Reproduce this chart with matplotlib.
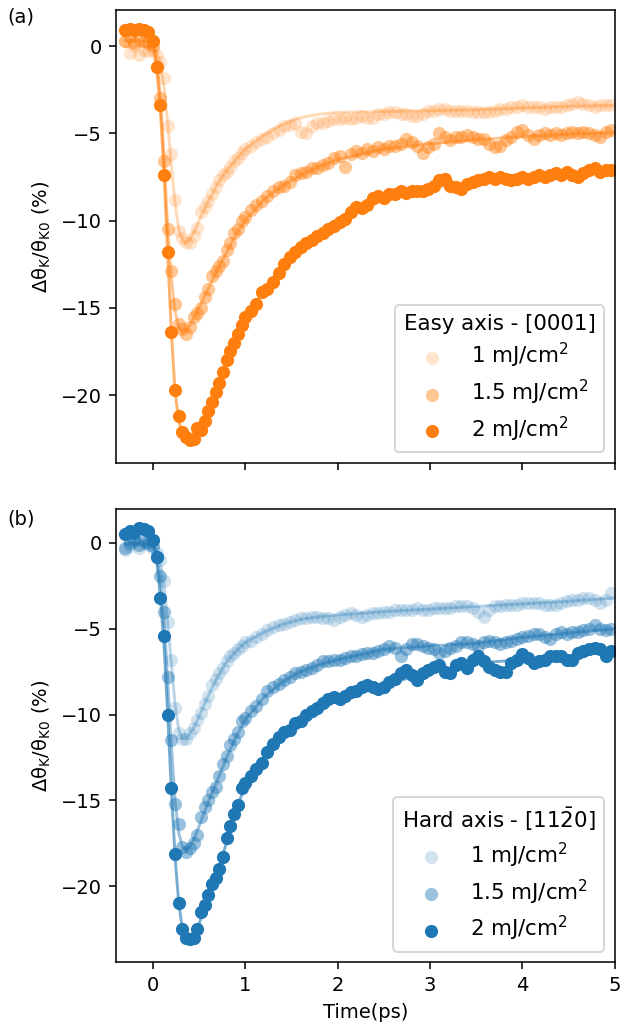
import numpy as np
import matplotlib
matplotlib.use("Agg")
import matplotlib.pyplot as plt

# delay times (ps), shared by every trace
t = [-0.30, -0.25, -0.20, -0.15, -0.10, -0.05,
     0.00, 0.04, 0.08, 0.12, 0.16, 0.20, 0.24, 0.28, 0.32, 0.36,
     0.40, 0.44, 0.48, 0.52, 0.56, 0.60, 0.64, 0.68, 0.72, 0.76,
     0.80, 0.84, 0.88, 0.92, 0.96, 1.00,
     1.06, 1.12, 1.18, 1.24, 1.30, 1.36, 1.42, 1.48, 1.54, 1.60,
     1.66, 1.72, 1.78, 1.84, 1.90, 1.96, 2.02, 2.08, 2.14, 2.20,
     2.26, 2.32, 2.38, 2.44, 2.50, 2.56, 2.62, 2.68, 2.74, 2.80,
     2.86, 2.92, 2.98, 3.04, 3.10, 3.16, 3.22, 3.28, 3.34, 3.40,
     3.46, 3.52, 3.58, 3.64, 3.70, 3.76, 3.82, 3.88, 3.94, 4.00,
     4.06, 4.12, 4.18, 4.24, 4.30, 4.36, 4.42, 4.48, 4.54, 4.60,
     4.66, 4.72, 4.78, 4.84, 4.90, 4.96]

# easy axis [0001]
easy_1 = [0.3, -0.4, 0.0, -0.5, -0.2, -0.3,
          -0.2, -0.5, -0.9, -1.8, -4.6, -6.2, -8.8, -10.6, -11.0, -11.2,
          -11.3, -10.9, -10.4, -9.5, -9.2, -8.9, -8.5, -8.1, -7.7, -7.4,
          -7.2, -6.9, -6.6, -6.4, -6.1, -5.9,
          -5.7, -5.5, -5.3, -5.2, -5.0, -4.8, -4.6, -4.5, -4.4, -4.9,
          -5.0, -4.6, -4.4, -4.4, -4.3, -4.2, -4.2, -4.1, -4.2, -4.1,
          -4.0, -4.1, -4.1, -3.9, -3.9, -3.8, -3.8, -3.9, -3.9, -4.0,
          -4.0, -3.9, -3.7, -3.7, -3.6, -3.6, -3.7, -3.7, -3.7, -3.7,
          -3.8, -3.8, -3.8, -3.8, -3.7, -3.6, -3.6, -3.5, -3.5, -3.4,
          -3.5, -3.5, -3.5, -3.6, -3.5, -3.5, -3.5, -3.4, -3.3, -3.2,
          -3.3, -3.4, -3.5, -3.4, -3.4, -3.4]
easy_15 = [0.3, 0.5, 0.2, 0.4, 0.3, 0.2,
           0.0, -1.2, -3.0, -6.6, -10.5, -12.9, -14.8, -15.9, -16.2, -16.5,
           -16.1, -15.5, -15.3, -15.0, -14.4, -13.9, -13.2, -12.9, -12.6, -12.3,
           -11.7, -11.3, -10.7, -10.5, -10.0, -9.8,
           -9.4, -9.1, -8.9, -8.6, -8.3, -8.1, -8.0, -7.8, -7.4, -7.3,
           -7.2, -7.0, -7.0, -6.8, -6.7, -6.4, -6.3, -6.9, -6.2, -6.0,
           -6.1, -5.9, -6.0, -5.8, -5.9, -5.7, -5.7, -5.6, -5.3, -5.5,
           -5.7, -6.1, -5.8, -5.6, -5.0, -5.2, -5.4, -5.2, -5.2, -5.1,
           -5.2, -5.3, -5.3, -5.6, -5.8, -5.7, -5.4, -5.2, -4.9, -4.8,
           -5.1, -5.3, -5.1, -5.0, -5.1, -5.0, -5.1, -5.0, -4.9, -5.0,
           -4.9, -5.0, -5.1, -5.2, -4.9, -4.8]
easy_2 = [0.9, 1.0, 0.9, 1.0, 0.9, 0.8,
          0.3, -1.2, -3.4, -7.4, -11.8, -16.4, -19.7, -21.2, -22.1, -22.4,
          -22.6, -22.5, -21.9, -22.0, -21.5, -20.9, -20.4, -19.8, -19.3, -18.7,
          -18.0, -17.5, -17.0, -16.5, -16.0, -15.5,
          -15.2, -14.8, -14.1, -13.9, -13.5, -13.0, -12.5, -12.1, -11.8, -11.5,
          -11.3, -11.1, -10.9, -10.7, -10.5, -10.3, -10.1, -9.9, -9.5, -9.2,
          -9.3, -9.1, -8.7, -8.6, -8.7, -8.5, -8.5, -8.3, -8.4, -8.3,
          -8.3, -8.3, -8.2, -8.0, -7.7, -7.6, -8.0, -8.1, -8.2, -7.9,
          -7.8, -7.7, -7.6, -7.5, -7.6, -7.5, -7.6, -7.7, -7.6, -7.5,
          -7.6, -7.5, -7.4, -7.5, -7.4, -7.3, -7.4, -7.2, -7.4, -7.5,
          -7.3, -7.1, -7.0, -7.2, -7.1, -7.1]

# hard axis [11-20]
hard_1 = [-0.4, -0.2, 0.1, -0.3, 0.0, -0.1,
          -0.3, -0.6, -1.0, -2.2, -4.6, -6.8, -9.6, -11.1, -11.4, -11.4,
          -11.1, -10.8, -10.3, -9.9, -9.4, -8.9, -8.3, -7.9, -7.6, -7.3,
          -6.9, -6.6, -6.4, -6.2, -6.0, -5.8,
          -5.7, -5.5, -5.3, -5.1, -4.9, -4.8, -4.7, -4.6, -4.5, -4.4,
          -4.4, -4.3, -4.3, -4.4, -4.4, -4.5, -4.3, -4.2, -4.1, -4.2,
          -4.3, -4.2, -4.1, -4.1, -4.0, -4.0, -3.9, -3.9, -3.9, -3.9,
          -3.8, -3.9, -3.9, -3.8, -3.8, -3.8, -3.8, -3.7, -3.7, -3.7,
          -3.8, -4.0, -4.3, -3.9, -3.7, -3.7, -3.6, -3.6, -3.6, -3.5,
          -3.5, -3.5, -3.5, -3.6, -3.6, -3.6, -3.5, -3.4, -3.3, -3.3,
          -3.2, -3.2, -3.3, -3.5, -3.3, -2.9]
hard_15 = [-0.3, 0.0, 0.2, -0.1, 0.1, 0.0,
           -0.2, -0.8, -1.9, -4.0, -7.8, -11.5, -15.2, -16.4, -17.7, -18.0,
           -17.8, -17.5, -17.0, -16.0, -15.4, -15.0, -14.5, -14.2, -13.6, -12.9,
           -12.4, -11.8, -11.4, -11.0, -10.4, -10.2,
           -9.8, -9.5, -9.1, -8.6, -8.4, -8.2, -8.0, -7.8, -7.6, -7.5,
           -7.4, -7.3, -7.1, -6.9, -6.9, -6.8, -6.8, -6.7, -6.6, -6.6,
           -6.5, -6.4, -6.4, -6.3, -6.2, -6.0, -6.1, -6.6, -6.2, -5.9,
           -5.9, -6.0, -6.1, -6.2, -6.4, -6.3, -6.1, -6.0, -5.8, -5.8,
           -5.9, -6.0, -5.8, -5.7, -5.8, -5.9, -5.8, -5.7, -5.6, -5.5,
           -5.4, -5.3, -5.3, -5.5, -5.6, -5.3, -5.2, -5.3, -5.2, -5.2,
           -5.1, -5.0, -4.8, -5.0, -5.1, -5.0]
hard_2 = [0.5, 0.7, 0.6, 0.9, 0.8, 0.7,
          0.2, -0.8, -3.2, -5.4, -10.0, -14.3, -18.1, -21.0, -22.5, -23.0,
          -23.1, -23.0, -22.5, -21.5, -21.1, -20.5, -19.9, -19.5, -19.0, -18.3,
          -17.2, -16.5, -15.8, -15.3, -14.3, -14.0,
          -13.6, -13.2, -12.8, -12.2, -11.7, -11.3, -11.0, -10.9, -10.5, -10.4,
          -10.0, -9.8, -9.6, -9.3, -9.1, -9.0, -9.1, -8.9, -8.7, -8.6,
          -8.4, -8.3, -8.4, -8.5, -8.4, -8.1, -7.9, -7.6, -7.4, -7.7,
          -8.0, -7.6, -7.4, -7.2, -7.1, -7.5, -7.6, -7.1, -7.0, -7.3,
          -6.8, -6.6, -6.9, -7.2, -7.4, -7.5, -7.5, -7.0, -6.8, -6.5,
          -6.7, -7.0, -6.9, -6.8, -6.6, -6.6, -6.6, -6.8, -6.8, -6.4,
          -6.3, -6.2, -6.1, -6.2, -6.6, -6.3]

t_fit = [-0.30, -0.10, 0.00, 0.04, 0.08, 0.12, 0.16, 0.20, 0.24, 0.28,
         0.32, 0.36, 0.40, 0.45, 0.50, 0.60, 0.70, 0.80, 0.90, 1.00,
         1.20, 1.40, 1.60, 1.80, 2.00, 2.50, 3.00, 3.50, 4.00, 4.50, 5.00]
easy_1_fit = [0.0, 0.0, -0.1, -0.3, -1.0, -2.3, -4.4, -6.8, -9.0, -10.5,
              -11.1, -11.3, -11.1, -10.6, -10.0, -8.9, -7.9, -7.1, -6.5, -5.9,
              -5.1, -4.5, -4.1, -3.9, -3.8, -3.75, -3.7, -3.65, -3.55, -3.45, -3.4]
easy_15_fit = [0.3, 0.3, 0.2, -0.8, -2.8, -6.3, -10.3, -13.3, -15.2, -16.1,
               -16.4, -16.3, -16.0, -15.5, -15.0, -13.9, -12.8, -11.8, -10.8, -10.0,
               -8.8, -8.0, -7.4, -6.9, -6.5, -5.9, -5.6, -5.35, -5.2, -5.05, -4.95]
easy_2_fit = [0.9, 0.9, 0.4, -1.2, -3.5, -7.2, -11.9, -16.4, -19.8, -21.5,
              -22.2, -22.4, -22.4, -22.2, -21.8, -20.9, -19.6, -18.1, -16.8, -15.6,
              -14.0, -12.7, -11.6, -10.8, -10.1, -8.8, -8.1, -7.8, -7.55, -7.35, -7.15]
hard_1_fit = [-0.1, -0.1, -0.2, -0.5, -1.1, -2.4, -4.6, -7.0, -9.4, -10.9,
              -11.4, -11.4, -11.1, -10.7, -10.1, -8.9, -7.8, -6.9, -6.3, -5.8,
              -5.2, -4.75, -4.45, -4.3, -4.2, -4.0, -3.85, -3.7, -3.55, -3.4, -3.2]
hard_15_fit = [0.0, 0.0, -0.1, -0.8, -2.0, -4.3, -8.0, -11.8, -15.0, -16.9,
               -17.7, -17.9, -17.7, -17.2, -16.5, -15.1, -13.8, -12.5, -11.3, -10.3,
               -9.0, -8.1, -7.5, -7.1, -6.8, -6.2, -6.0, -5.85, -5.5, -5.25, -5.0]
hard_2_fit = [0.7, 0.7, 0.2, -0.9, -3.1, -5.9, -10.0, -14.4, -18.3, -21.0,
              -22.5, -23.0, -23.1, -22.9, -22.2, -20.6, -19.2, -17.4, -15.6, -14.1,
              -12.6, -11.3, -10.3, -9.6, -9.1, -8.3, -7.5, -7.0, -6.8, -6.6, -6.3]

fluences = ["1 mJ/cm$^2$", "1.5 mJ/cm$^2$", "2 mJ/cm$^2$"]
point_alpha = [0.2, 0.45, 1.0]
line_alpha = [0.3, 0.45, 0.6]

plt.rcParams["font.size"] = 10
fig = plt.figure(figsize=(4.5, 7.4), dpi=140)
ax1 = fig.add_axes([0.184, 0.553, 0.792, 0.437])
ax2 = fig.add_axes([0.184, 0.071, 0.792, 0.438], sharex=ax1)

panels = [
    (ax1, "C1", [easy_1, easy_15, easy_2], [easy_1_fit, easy_15_fit, easy_2_fit],
     "Easy axis - [0001]", (-23.9, 2.05)),
    (ax2, "C0", [hard_1, hard_15, hard_2], [hard_1_fit, hard_15_fit, hard_2_fit],
     "Hard axis - [11$\\bar{2}$0]", (-24.45, 2.0)),
]

for ax, color, series, fits, title, ylim in panels:
    for y, yf, lab, pa, la in zip(series, fits, fluences, point_alpha, line_alpha):
        ax.plot(t_fit, yf, color=color, alpha=la, lw=1.5, zorder=1)
        ax.scatter(t, y, s=46, color=color, alpha=pa, linewidths=0, label=lab, zorder=2)
    ax.set_ylim(*ylim)
    ax.set_yticks([0, -5, -10, -15, -20])
    ax.set_ylabel("Δθ$_\\mathrm{K}$/θ$_\\mathrm{K0}$ (%)")
    ax.legend(title=title, loc="lower right", fontsize=11, title_fontsize=11,
              labelspacing=0.35)

ax1.set_xlim(-0.4, 5)
ax1.set_xticks([0, 1, 2, 3, 4, 5])
ax1.tick_params(labelbottom=False)
ax2.set_xlabel("Time(ps)")

fig.text(0.012, 0.993, "(a)", va="top")
fig.text(0.012, 0.508, "(b)", va="top")

fig.savefig("out.png", dpi=140)
